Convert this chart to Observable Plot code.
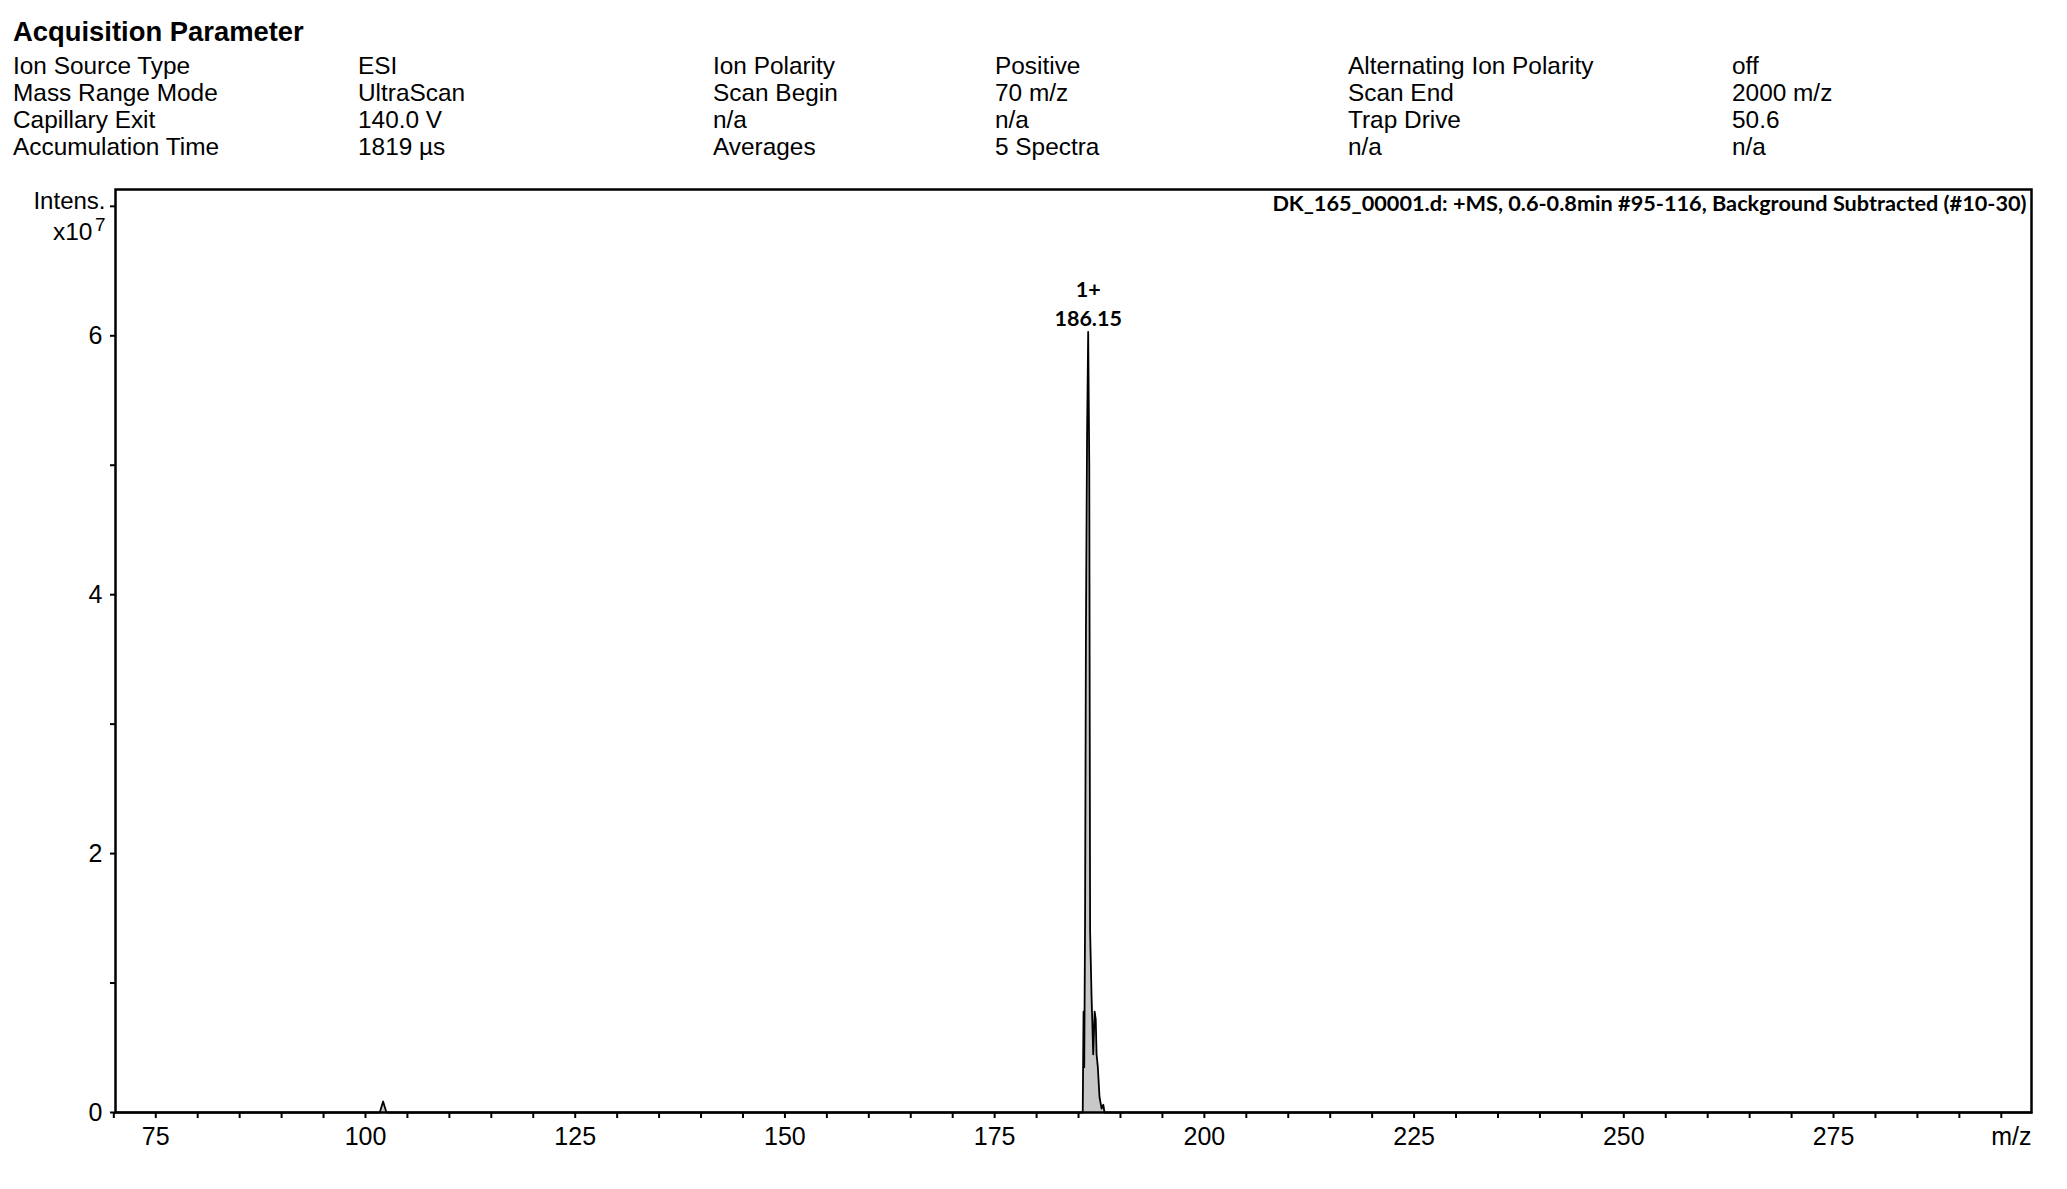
<!DOCTYPE html>
<html><head><meta charset="utf-8">
<script src="https://cdn.jsdelivr.net/npm/d3@7"></script>
<script src="https://cdn.jsdelivr.net/npm/@observablehq/plot@0.6"></script>
<style>
body{margin:0;background:#fff;width:2067px;height:1189px;position:relative;overflow:hidden;font-family:"Liberation Sans",Arial,sans-serif;}
.h{position:absolute;font-size:24.4px;line-height:24px;white-space:nowrap;color:#000}
#title{position:absolute;left:13px;top:18px;font-size:27.4px;line-height:27px;font-weight:bold;white-space:nowrap}
#sep{position:absolute;left:13px;top:172px;width:2017px;height:3px;background:#c4c4c4}
#chart{position:absolute;left:0;top:160px}
</style></head><body>
<div id="title">Acquisition Parameter</div>
<div id="params"></div>
<div id="sep"></div>
<div id="chart"></div>
<script>
// Header parameter table (six columns, four rows)
const paramNames1 = ["Ion Source Type","Mass Range Mode","Capillary Exit","Accumulation Time"];
const paramValues1 = ["ESI","UltraScan","140.0 V","1819 µs"];
const paramNames2 = ["Ion Polarity","Scan Begin","n/a","Averages"];
const paramValues2 = ["Positive","70 m/z","n/a","5 Spectra"];
const paramNames3 = ["Alternating Ion Polarity","Scan End","Trap Drive","n/a"];
const paramValues3 = ["off","2000 m/z","50.6","n/a"];

// Spectrum profile (m/z, intensity in units of 1e7)
const mz =        [70.2, 101.7, 102.1, 102.5, 185.5, 185.6, 185.68, 185.78, 185.88, 185.95, 186.02, 186.15, 186.28, 186.38, 186.55, 186.75, 186.92, 187.05, 187.15, 187.3, 187.5, 187.75, 187.95, 188.1, 298.6];
const intensity = [0,    0,     0.085, 0,     0,     0.78,  0.35,   1.5,    3.67,   4.49,   5.24,   6.03,   5.0,    1.4,    0.9,    0.45,   0.78,   0.72,   0.45,   0.35,  0.12,  0.03,   0.06,   0,     0];

// Peak annotation
const peakMz = [186.15];
const peakIntensity = [6.03];
const peakCharge = ["1+"];

// Axis ticks
const xTicks = d3.range(70, 300, 5);
const xLabelTicks = [75, 100, 125, 150, 175, 200, 225, 250, 275];
const yTicks = [0, 1, 2, 3, 4, 5, 6, 7];
const yLabelTicks = [0, 2, 4, 6];
const yUnitTick = 7;

const xDomain = [70.2, 298.6];
const yDomain = [0, 7.13];

const spectrumTitle = "DK_165_00001.d: +MS, 0.6-0.8min #95-116, Background Subtracted (#10-30)";

// header layout
const colLefts = [13, 358, 713, 995, 1348, 1732];
const rowCenters = [66, 93, 120, 147];
const cols = [paramNames1, paramValues1, paramNames2, paramValues2, paramNames3, paramValues3];
const params = document.getElementById("params");
cols.forEach((col, ci) => col.forEach((t, ri) => {
  const d = document.createElement("div");
  d.className = "h";
  d.textContent = t;
  d.style.left = colLefts[ci] + "px";
  d.style.top = (rowCenters[ri] - 12) + "px";
  params.appendChild(d);
}));

const spectrum = mz.map((m, i) => ({mz: m, intensity: intensity[i]}));
const peaks = peakMz.map((m, i) => ({mz: m, intensity: peakIntensity[i], label: peakCharge[i] + "\n" + m.toFixed(2)}));

const labelFont = "Lato, 'Open Sans', sans-serif";

const chart = Plot.plot({
  width: 2067,
  height: 1029,
  marginTop: 29,
  marginRight: 36,
  marginBottom: 77,
  marginLeft: 115,
  style: {fontFamily: "'Liberation Sans', Arial, sans-serif", fontSize: "25px", color: "black", background: "white"},
  x: {domain: xDomain},
  y: {domain: yDomain},
  marks: [
    Plot.areaY(spectrum, {x: "mz", y: "intensity", fill: "#c8c8c8"}),
    Plot.lineY(spectrum, {x: "mz", y: "intensity", stroke: "black", strokeWidth: 1.8}),
    Plot.axisX({ticks: xTicks, tickSize: 6, tickPadding: 9, strokeWidth: 2, fontSize: 25,
      tickFormat: d => xLabelTicks.includes(d) ? String(d) : "", label: null}),
    Plot.axisY({ticks: yTicks, tickSize: 5, tickPadding: 8, strokeWidth: 2, fontSize: 25,
      tickFormat: d => yLabelTicks.includes(d) ? String(d) : "", label: null}),
    Plot.text(["Intens."], {x: () => xDomain[0], y: () => yUnitTick, dx: -10, dy: -5, textAnchor: "end", lineAnchor: "middle", fontSize: 24}),
    Plot.text(["x10"], {frameAnchor: "top-left", dx: -23, dy: 50, textAnchor: "end", lineAnchor: "bottom", fontSize: 24.5}),
    Plot.text(["7"], {frameAnchor: "top-left", dx: -10, dy: 41, textAnchor: "end", lineAnchor: "bottom", fontSize: 19}),
    Plot.text(["m/z"], {frameAnchor: "bottom-right", dx: 0, dy: 24, textAnchor: "end", lineAnchor: "middle", fontSize: 25}),
    Plot.text([spectrumTitle], {frameAnchor: "top-right", dx: -5, dy: 15, textAnchor: "end", lineAnchor: "middle",
      fontSize: 21.7, fontWeight: "bold", fontFamily: labelFont}),
    Plot.text(peaks, {x: "mz", y: "intensity", text: "label", lineAnchor: "bottom", dy: -6, lineHeight: 1.33,
      fontSize: 21.5, fontWeight: "bold", fontFamily: labelFont}),
    Plot.frame({stroke: "black", strokeWidth: 2.5})
  ]
});
document.getElementById("chart").appendChild(chart);
</script>
</body></html>
